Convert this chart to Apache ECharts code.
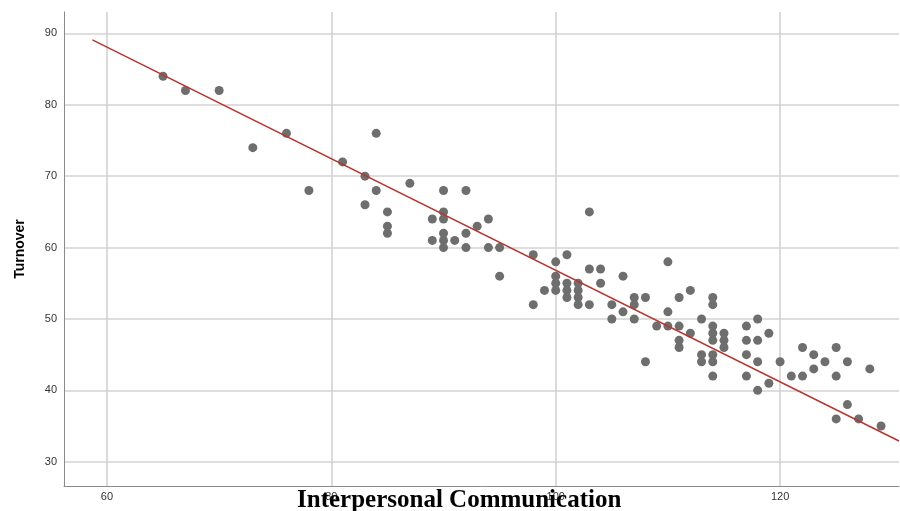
<!DOCTYPE html>
<html>
<head>
<meta charset="utf-8">
<script src="https://cdn.jsdelivr.net/npm/echarts@6/dist/echarts.min.js"></script>
<style>html,body{margin:0;padding:0;background:#fff}#c{width:900px;height:511px}</style>
</head>
<body>
<div id="c"></div>
<script>
const xTicks = [60, 80, 100, 120];
const yTicks = [30, 40, 50, 60, 70, 80, 90];
const communication = [65,67,70,73,76,78,81,83,83,84,84,85,85,85,87,89,89,90,90,90,90,90,90,91,92,92,92,93,94,94,95,95,98,98,99,100,100,100,100,101,101,101,101,102,102,102,102,103,103,103,104,104,105,105,106,106,107,107,107,108,108,109,110,110,110,111,111,111,111,112,112,113,113,113,114,114,114,114,114,114,114,114,115,115,115,117,117,117,117,118,118,118,118,119,119,120,121,122,122,123,123,124,125,125,125,126,126,127,128,129];
const turnover =      [84,82,82,74,76,68,72,70,66,76,68,65,63,62,69,64,61,68,65,64,62,61,60,61,68,62,60,63,64,60,60,56,59,52,54,58,56,55,54,59,55,54,53,55,54,53,52,65,57,52,57,55,52,50,56,51,53,52,50,53,44,49,58,51,49,53,49,47,46,54,48,50,45,44,53,52,49,48,47,45,44,42,48,47,46,49,47,45,42,50,47,44,40,48,41,44,42,46,42,45,43,44,46,42,36,44,38,36,43,35];
const fitX = [58.7, 130.6];
const fitY = [89.1, 32.9];

const points = communication.map((x, i) => [x, turnover[i]]);
const fitLine = fitX.map((x, i) => [x, fitY[i]]);

const chart = echarts.init(document.getElementById('c'), null, {renderer: 'canvas'});
chart.setOption({
  animation: false,
  backgroundColor: '#ffffff',
  grid: {left: 64, right: 1, top: 12, bottom: 25, containLabel: false},
  title: {
    text: 'Interpersonal Communication',
    left: 292, top: 483,
    textStyle: {fontFamily: 'Liberation Serif', fontWeight: 'bold', fontSize: 25, color: '#000'}
  },
  xAxis: {
    type: 'value', min: 56.17, max: 130.6,
    axisLine: {show: true, onZero: false, lineStyle: {color: '#8a8a8a', width: 1}},
    axisTick: {show: false, customValues: xTicks},
    axisLabel: {customValues: xTicks, color: '#333', fontSize: 11, fontFamily: 'Liberation Sans', margin: 5},
    splitLine: {show: true, lineStyle: {color: '#cfcfcf', width: 1.5}}
  },
  yAxis: {
    type: 'value', min: 26.6, max: 93,
    name: 'Turnover', nameLocation: 'middle', nameGap: 37,
    nameTextStyle: {fontFamily: 'Liberation Sans', fontWeight: 'bold', fontSize: 14, color: '#000'},
    axisLine: {show: true, onZero: false, lineStyle: {color: '#8a8a8a', width: 1}},
    axisTick: {show: false, customValues: yTicks},
    axisLabel: {customValues: yTicks, color: '#333', fontSize: 11, fontFamily: 'Liberation Sans', margin: 7},
    splitLine: {show: true, lineStyle: {color: '#d3d3d3', width: 1.5}}
  },
  series: [
    {
      type: 'scatter', data: points, symbol: 'circle', symbolSize: 9,
      itemStyle: {color: '#6e6e6e', opacity: 1}, z: 3
    },
    {
      type: 'line', data: fitLine, symbol: 'none',
      lineStyle: {color: '#b8352d', width: 1.5}, z: 4
    }
  ]
});
</script>
</body>
</html>
